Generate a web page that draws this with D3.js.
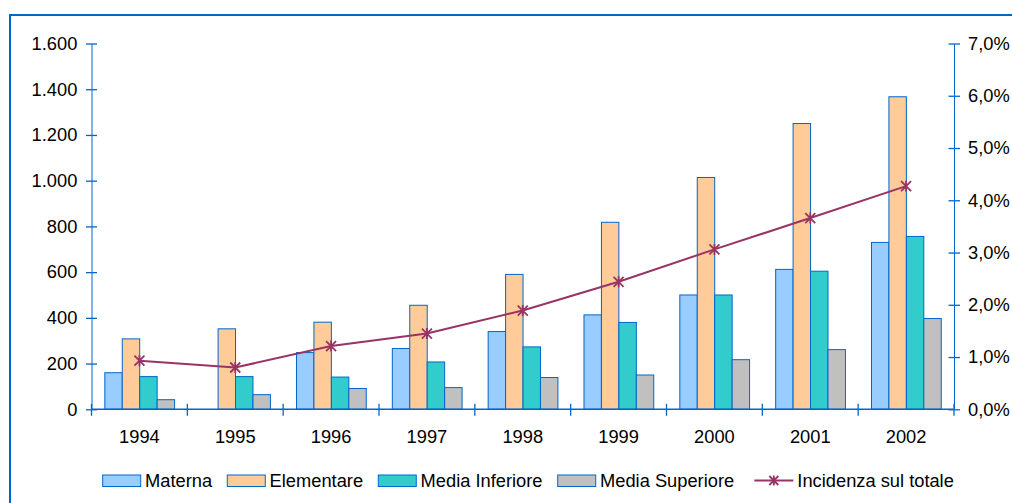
<!DOCTYPE html>
<html>
<head>
<meta charset="utf-8">
<script src="https://cdn.jsdelivr.net/npm/d3@7"></script>
<style>
  html, body { margin: 0; padding: 0; background: #ffffff; }
  svg { display: block; font-family: "Liberation Sans", Arial, sans-serif; }
</style>
</head>
<body>
<svg id="chart" width="1012" height="503"></svg>
<script>
// Alunni stranieri per ordine di scuola, 1994-2002
const years = ["1994", "1995", "1996", "1997", "1998", "1999", "2000", "2001", "2002"];
const seriesNames = ["Materna", "Elementare", "Media Inferiore", "Media Superiore"];
const materna = [160, 0, 248, 266, 340, 413, 500, 612, 730];
const elementare = [308, 352, 381, 455, 590, 818, 1014, 1250, 1367];
const mediaInferiore = [143, 143, 141, 207, 273, 380, 500, 604, 756];
const mediaSuperiore = [42, 64, 91, 95, 139, 150, 217, 261, 397];
const incidenza = [0.0093, 0.0080, 0.0121, 0.0145, 0.0189, 0.0244, 0.0306, 0.0366, 0.0427];
const leftTicks = [0, 200, 400, 600, 800, 1000, 1200, 1400, 1600];
const rightTicks = [0, 0.01, 0.02, 0.03, 0.04, 0.05, 0.06, 0.07];
const lineName = "Incidenza sul totale";

const seriesValues = [materna, elementare, mediaInferiore, mediaSuperiore];
const fills = ["#99ccff", "#ffcc99", "#33cccc", "#c0c0c0"];
const blue = "#0066cc";
const plum = "#993366";
const fontSize = 18.3;

const it = d3.formatLocale({ decimal: ",", thousands: ".", grouping: [3], currency: ["€", ""] });
const fmtNum = it.format(",d");
const fmtPct = it.format(".1%");

const svg = d3.select("#chart");

// outer frame, open on the right and bottom
svg.append("rect")
  .attr("x", 10).attr("y", 15)
  .attr("width", 1100).attr("height", 600)
  .attr("fill", "#ffffff")
  .attr("stroke", blue).attr("stroke-width", 2);

const plot = { left: 91.5, right: 954, top: 43.5, bottom: 409.3 };

const x = d3.scaleBand().domain(years).range([plot.left, plot.right]).padding(0);
const bw = x.bandwidth();
const xs = d3.scaleBand().domain(seriesNames)
  .range([bw * 0.139, bw * 0.867]).padding(0);
const y = d3.scaleLinear().domain([0, 1600]).range([plot.bottom, plot.top]);
const y2 = d3.scaleLinear().domain([0, 0.07]).range([plot.bottom, plot.top]);

// bars
const groups = svg.append("g").selectAll("g")
  .data(years).join("g")
  .attr("transform", d => `translate(${x(d)},0)`);

groups.selectAll("rect")
  .data((d, i) => seriesNames.map((s, k) => ({ s, k, v: seriesValues[k][i] })))
  .join("rect")
  .filter(d => d.v > 0)
  .attr("x", d => xs(d.s))
  .attr("width", xs.bandwidth())
  .attr("y", d => y(d.v))
  .attr("height", d => y(0) - y(d.v))
  .attr("fill", d => fills[d.k])
  .attr("stroke", blue)
  .attr("stroke-width", 1);

// axes
const axisStyle = g => {
  g.select(".domain").attr("stroke", blue).attr("stroke-width", 1);
  g.selectAll(".tick line").attr("stroke", blue).attr("stroke-width", 1.3);
  g.selectAll(".tick text").attr("fill", "#000").attr("font-size", fontSize)
    .attr("font-family", "'Liberation Sans', Arial, sans-serif");
};

const gl = svg.append("g").attr("transform", `translate(${plot.left},0)`)
  .call(d3.axisLeft(y).tickValues(leftTicks).tickFormat(fmtNum)
    .tickSizeInner(5.5).tickSizeOuter(0).tickPadding(9));
axisStyle(gl);
gl.selectAll(".tick line").attr("x2", 5.5).attr("x1", -5.5);
gl.selectAll(".tick text").attr("x", -14.2);

const gr = svg.append("g").attr("transform", `translate(${plot.right},0)`)
  .call(d3.axisRight(y2).tickValues(rightTicks).tickFormat(fmtPct)
    .tickSizeInner(5.5).tickSizeOuter(0).tickPadding(9));
axisStyle(gr);
gr.selectAll(".tick line").attr("x1", -5.5).attr("x2", 6);
gr.selectAll(".tick text").attr("x", 14);

// category axis with separators between years
const gb = svg.append("g").attr("transform", `translate(0,${plot.bottom})`);
gb.append("line")
  .attr("x1", plot.left).attr("x2", plot.right)
  .attr("stroke", blue).attr("stroke-width", 1.5);
const bounds = years.map(d => x(d)).concat([plot.right]);
gb.selectAll("line.sep").data(bounds).join("line")
  .attr("class", "sep")
  .attr("x1", d => d).attr("x2", d => d)
  .attr("y1", -5.5).attr("y2", 6.5)
  .attr("stroke", blue).attr("stroke-width", 1.3);
gb.selectAll("text").data(years).join("text")
  .attr("x", d => x(d) + bw / 2)
  .attr("y", 33.3)
  .attr("text-anchor", "middle")
  .attr("font-size", fontSize)
  .attr("fill", "#000")
  .text(d => d);

// line series on the secondary axis
const cx = i => x(years[i]) + bw / 2;
const line = d3.line().x((d, i) => cx(i)).y(d => y2(d));
svg.append("path")
  .datum(incidenza)
  .attr("d", line)
  .attr("fill", "none")
  .attr("stroke", plum)
  .attr("stroke-width", 2);

function star(g, px, py, r) {
  const p = d3.path();
  p.moveTo(px - r, py - r); p.lineTo(px + r, py + r);
  p.moveTo(px - r, py + r); p.lineTo(px + r, py - r);
  p.moveTo(px, py - r * 1.1); p.lineTo(px, py + r * 1.1);
  g.append("path").attr("d", p.toString())
    .attr("stroke", plum).attr("stroke-width", 1.8).attr("fill", "none");
}
const markers = svg.append("g");
incidenza.forEach((v, i) => star(markers, cx(i), y2(v), 5));

// legend
const legend = svg.append("g").attr("font-size", fontSize);
let lx = 102.7;
const ly = 486.5;
seriesNames.forEach((s, k) => {
  legend.append("rect")
    .attr("x", lx).attr("y", ly - 11.5)
    .attr("width", 38).attr("height", 11.5)
    .attr("fill", fills[k]).attr("stroke", blue).attr("stroke-width", 1);
  const t = legend.append("text")
    .attr("x", lx + 42.3).attr("y", ly)
    .attr("fill", "#000").text(s);
  lx = lx + 42.3 + t.node().getComputedTextLength() + 15.2;
});
lx += 5;
legend.append("line")
  .attr("x1", lx).attr("x2", lx + 39)
  .attr("y1", ly - 6).attr("y2", ly - 6)
  .attr("stroke", plum).attr("stroke-width", 2);
star(legend, lx + 19.5, ly - 6, 4.5);
legend.append("text")
  .attr("x", lx + 43).attr("y", ly)
  .attr("fill", "#000").text(lineName);
</script>
</body>
</html>
